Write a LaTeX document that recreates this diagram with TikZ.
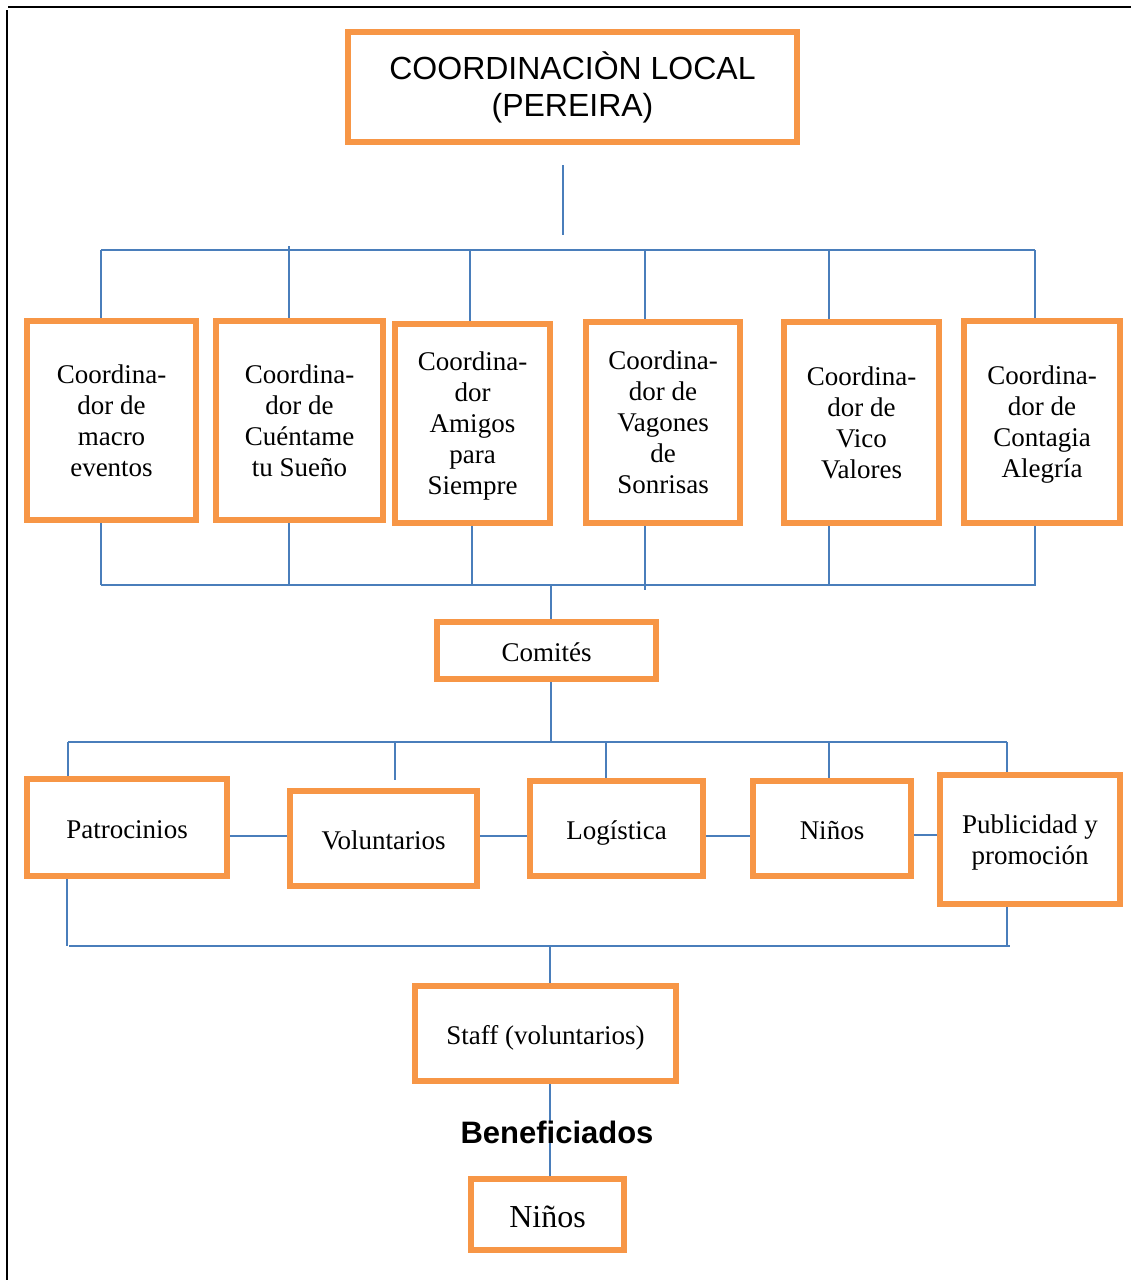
\documentclass[tikz,border=0pt]{standalone}
\usepackage{fontspec}
\setmainfont{Liberation Serif}
\newfontfamily\arialfont{Liberation Sans}
\definecolor{boxorange}{HTML}{F79646}
\definecolor{linkblue}{HTML}{4A7EBB}
\begin{document}
\begin{tikzpicture}[x=1pt,y=-1pt,
  obox/.style={draw=boxorange, line width=6pt, inner sep=0pt, align=center,
               font=\fontsize{27}{31}\selectfont},
  oneline/.style={text height=25.6pt, text depth=4pt},
  multiline/.style={text depth=0pt},
  conn/.style={draw=linkblue, line width=2pt},
  framerule/.style={draw=black, line width=2.5pt}]
\useasboundingbox (0,0) rectangle (1131,1280);
% page frame
\coordinate (fTL) at (8,7);
\coordinate (fTR) at (1131,7);
\coordinate (fLT) at (7,10);
\coordinate (fLB) at (7,1280);
\draw[framerule] (fTL) -- (fTR);
\draw[framerule] (fLT) -- (fLB);

% top box
\node[obox, minimum width=449pt, minimum height=110pt,
      font=\arialfont\fontsize{32}{37}\selectfont] (top) at (572.5,87)
      {COORDINACIÒN LOCAL\\(PEREIRA)};

% coordinators
\node[obox, multiline, minimum width=169pt, minimum height=199pt] (c1) at (111.5,420.5) {Coordina-\\dor de\\macro\\eventos};
\node[obox, multiline, minimum width=167pt, minimum height=199pt] (c2) at (299.5,420.5) {Coordina-\\dor de\\Cuéntame\\tu Sueño};
\node[obox, multiline, minimum width=155pt, minimum height=199pt] (c3) at (472.5,423.5) {Coordina-\\dor\\Amigos\\para\\Siempre};
\node[obox, multiline, minimum width=154pt, minimum height=201pt] (c4) at (663,422.5) {Coordina-\\dor de\\Vagones\\de\\Sonrisas};
\node[obox, multiline, minimum width=155pt, minimum height=201pt] (c5) at (861.5,422.5) {Coordina-\\dor de\\Vico\\Valores};
\node[obox, multiline, minimum width=156pt, minimum height=202pt] (c6) at (1042,422) {Coordina-\\dor de\\Contagia\\Alegría};

% comites
\node[obox, oneline, minimum width=219pt, minimum height=57pt] (comites) at (546.5,650.5) {Comités};

% committees
\node[obox, oneline, minimum width=200pt, minimum height=97pt] (p1) at (127,827.5) {Patrocinios};
\node[obox, oneline, minimum width=187pt, minimum height=95pt] (p2) at (383.5,838.5) {Voluntarios};
\node[obox, oneline, minimum width=173pt, minimum height=95pt] (p3) at (616.5,828.5) {Logística};
\node[obox, oneline, minimum width=158pt, minimum height=95pt] (p4) at (832,828.5) {Niños};
\node[obox, multiline, minimum width=180pt, minimum height=129pt] (p5) at (1030,839.5) {Publicidad y\\promoción};

% staff and children
\node[obox, oneline, minimum width=261pt, minimum height=95pt] (staff) at (545.5,1033.5) {Staff (voluntarios)};
\node[obox, minimum width=153pt, minimum height=71pt, font=\fontsize{32}{36}\selectfont,
      text height=30.4pt, text depth=4.8pt] (ninos) at (547.5,1214.5) {Niños};

% ---- connectors ----
\coordinate (stubT) at (563,165);
\coordinate (stubB) at (563,235);
\draw[conn] (stubT) -- (stubB);

\coordinate (busTL) at (101,250);
\coordinate (busTR) at (1035,250);
\draw[conn] (busTL) -- (busTR);
\coordinate (d1) at (101,250);
\coordinate (d2) at (289,246);
\coordinate (d3) at (470,250);
\coordinate (d4) at (645,250);
\coordinate (d5) at (829,250);
\coordinate (d6) at (1035,250);
\draw[conn] (d1) -- (d1 |- c1.north);
\draw[conn] (d2) -- (d2 |- c2.north);
\draw[conn] (d3) -- (d3 |- c3.north);
\draw[conn] (d4) -- (d4 |- c4.north);
\draw[conn] (d5) -- (d5 |- c5.north);
\draw[conn] (d6) -- (d6 |- c6.north);

\coordinate (busBL) at (101,585);
\coordinate (busBR) at (1036,585);
\draw[conn] (busBL) -- (busBR);
\coordinate (u1) at (101,585);
\coordinate (u2) at (289,585);
\coordinate (u3) at (472,585);
\coordinate (u4) at (645,590);
\coordinate (u5) at (829,585);
\coordinate (u6) at (1035,585);
\draw[conn] (u1 |- c1.south) -- (u1);
\draw[conn] (u2 |- c2.south) -- (u2);
\draw[conn] (u3 |- c3.south) -- (u3);
\draw[conn] (u4 |- c4.south) -- (u4);
\draw[conn] (u5 |- c5.south) -- (u5);
\draw[conn] (u6 |- c6.south) -- (u6);

\coordinate (mA) at (551,585);
\draw[conn] (mA) -- (mA |- comites.north);
\coordinate (mB) at (551,742);
\draw[conn] (mB |- comites.south) -- (mB);

\coordinate (busCL) at (68,742);
\coordinate (busCR) at (1007,742);
\draw[conn] (busCL) -- (busCR);
\coordinate (e1) at (68,742);
\coordinate (e2) at (395,742);
\coordinate (e2end) at (395,780);
\coordinate (e3) at (606,742);
\coordinate (e4) at (829,742);
\coordinate (e5) at (1007,742);
\draw[conn] (e1) -- (e1 |- p1.north);
\draw[conn] (e2) -- (e2end);
\draw[conn] (e3) -- (e3 |- p3.north);
\draw[conn] (e4) -- (e4 |- p4.north);
\draw[conn] (e5) -- (e5 |- p5.north);

\coordinate (hy) at (0,836);
\coordinate (hy2) at (0,835);
\draw[conn] (p1.east |- hy) -- (p2.west |- hy);
\draw[conn] (p2.east |- hy) -- (p3.west |- hy);
\draw[conn] (p3.east |- hy) -- (p4.west |- hy);
\draw[conn] (p4.east |- hy2) -- (p5.west |- hy2);

\coordinate (g1) at (67,946);
\coordinate (g5) at (1007,946);
\coordinate (busDL) at (69,946);
\coordinate (busDR) at (1010,946);
\draw[conn] (g1 |- p1.south) -- (g1);
\draw[conn] (g5 |- p5.south) -- (g5);
\draw[conn] (busDL) -- (busDR);
\coordinate (sA) at (550,946);
\draw[conn] (sA) -- (sA |- staff.north);

\draw[conn] (staff.south -| sA) -- (ninos.north -| sA);
\node[fill=white, inner sep=0pt, font=\arialfont\bfseries\fontsize{31}{35}\selectfont]
  (benef) at (557,1132) {Beneficiados};
\end{tikzpicture}
\end{document}
